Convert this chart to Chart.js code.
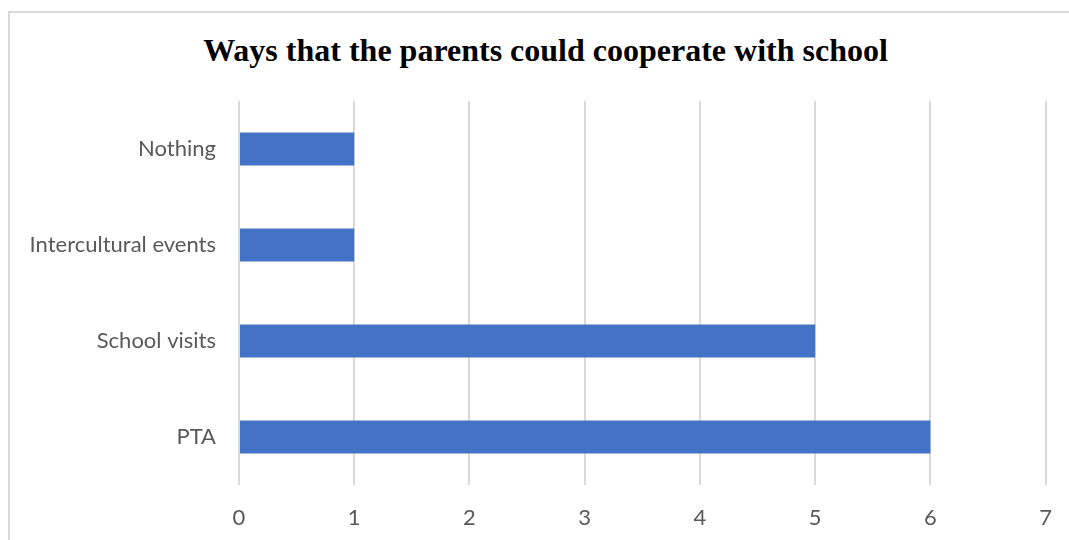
<!DOCTYPE html>
<html>
<head>
<meta charset="utf-8">
<script src="https://cdn.jsdelivr.net/npm/chart.js@4"></script>
<style>
  html, body { margin: 0; padding: 0; background: #fff; overflow: hidden; }
  #wrap { position: relative; width: 1069px; height: 540px; overflow: hidden; }
  /* marco gris del gráfico */
  #frame { position: absolute; left: 8px; top: 11px; width: 1200px; height: 700px; border: 2px solid #d9d9d9; box-sizing: border-box; }
  #titulo { position: absolute; left: 0; top: 31px; width: 1091px; text-align: center;
            font: bold 32px/38px "Liberation Serif", "Times New Roman", serif; color: #000; white-space: nowrap; }
  #chart { position: absolute; left: 0; top: 0; }
</style>
</head>
<body>
<div id="wrap">
  <div id="frame"></div>
  <div id="titulo"></div>
  <canvas id="chart" width="1072" height="540"></canvas>
</div>
<script>
// Datos
const titulo = 'Ways that the parents could cooperate with school';
const categorias = ['Nothing', 'Intercultural events', 'School visits', 'PTA'];
const valores = [1, 1, 5, 6];
const ejeMin = 0;
const ejeMax = 7;

document.getElementById('titulo').textContent = titulo;

const ctx = document.getElementById('chart').getContext('2d');
new Chart(ctx, {
  type: 'bar',
  data: {
    labels: categorias,
    datasets: [{
      data: valores,
      backgroundColor: '#4472c4',
      barPercentage: 0.5,
      categoryPercentage: 0.69
    }]
  },
  options: {
    indexAxis: 'y',
    responsive: false,
    animation: false,
    layout: { padding: { left: 0, right: 20, top: 101, bottom: 0 } },
    plugins: {
      legend: { display: false },
      tooltip: { enabled: false },
      title: { display: false }
    },
    scales: {
      x: {
        min: ejeMin,
        max: ejeMax,
        ticks: {
          stepSize: 1,
          color: '#595959',
          padding: 20,
          font: { family: 'Lato, "Open Sans", sans-serif', size: 22 }
        },
        grid: { color: '#d9d9d9', lineWidth: 2, drawTicks: false },
        border: { display: false },
        afterFit: s => { s.height = 55; }
      },
      y: {
        ticks: {
          color: '#595959',
          padding: 23,
          font: { family: 'Lato, "Open Sans", sans-serif', size: 22 }
        },
        grid: { display: false, drawTicks: false },
        border: { display: false },
        afterFit: s => { s.width = 239; }
      }
    }
  }
});
</script>
</body>
</html>
